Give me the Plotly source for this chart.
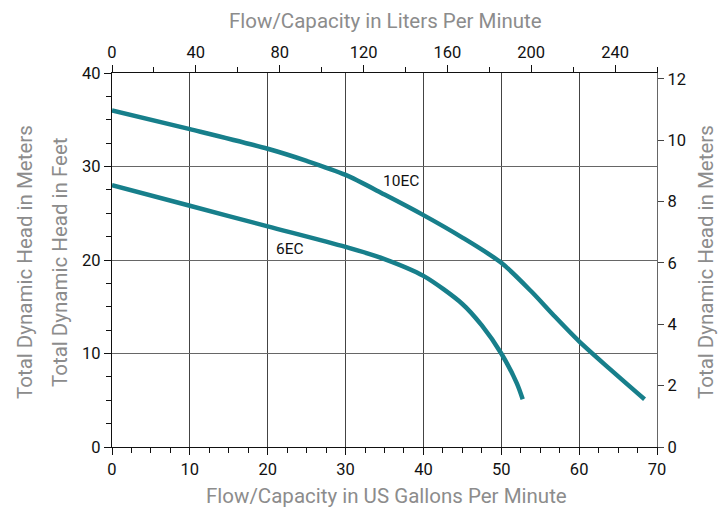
import plotly.graph_objects as go

# 10EC curve (US gpm, feet)
ec10_gpm = [0, 10, 20, 25, 30, 35, 40, 45, 50, 53.9, 56.6, 60, 64, 68.4]
ec10_ft = [36.0, 34.0, 31.9, 30.6, 29.1, 27.0, 24.8, 22.4, 19.7, 16.6, 14.2, 11.3, 8.3, 5.1]

# 6EC curve (US gpm, feet)
ec6_gpm = [0, 10, 20, 30, 35, 40, 45, 47.5, 50, 52, 52.75]
ec6_ft = [28.0, 25.8, 23.6, 21.4, 20.1, 18.3, 15.3, 13.0, 10.0, 6.8, 5.1]

curve_names = ["10EC", "6EC"]
label_pos = [(37.1, 28.4), (22.9, 21.2)]

FONT = "Roboto, Liberation Sans, sans-serif"
TEAL = "#177f8b"
GREY = "#8c8c8c"

# page body has an 8px default margin; plot area in window: x 112..657, y 73..447
OFF = 8
L, T = 112 - OFF, 73 - OFF
PW, PH = 545, 374
R = 727 - L - PW
B = 510 - T - PH

fig = go.Figure()
fig.add_trace(go.Scatter(x=ec10_gpm, y=ec10_ft, mode="lines", name=curve_names[0],
                         line=dict(color=TEAL, width=4.5, shape="spline", smoothing=0.8)))
fig.add_trace(go.Scatter(x=ec6_gpm, y=ec6_ft, mode="lines", name=curve_names[1],
                         line=dict(color=TEAL, width=4.5, shape="spline", smoothing=0.8)))
# invisible traces to bind secondary axes
fig.add_trace(go.Scatter(x=[0, 260], y=[0, 0], xaxis="x2", yaxis="y", mode="lines",
                         line=dict(width=0), hoverinfo="skip", showlegend=False))
fig.add_trace(go.Scatter(x=[0, 70], y=[0, 12.192], xaxis="x", yaxis="y2", mode="lines",
                         line=dict(width=0), hoverinfo="skip", showlegend=False))

for name, (lx, ly) in zip(curve_names, label_pos):
    fig.add_annotation(x=lx, y=ly, text=name, showarrow=False,
                       font=dict(family=FONT, size=15.5, color="#111"))

tickfont = dict(family=FONT, size=16.5, color="#111")
titlefont = dict(family=FONT, size=20.5, color=GREY)

fig.update_layout(
    width=727, height=510,
    margin=dict(l=L, r=R, t=T, b=B),
    paper_bgcolor="white", plot_bgcolor="white",
    showlegend=False,
    xaxis=dict(range=[0, 70], dtick=10, tick0=0, showgrid=True, gridcolor="#444",
               gridwidth=1, showline=True, linecolor="#111", linewidth=1.2,
               ticks="outside", ticklen=7, tickcolor="#111", tickfont=tickfont,
               minor=dict(dtick=2.5, ticks="outside", ticklen=5, tickcolor="#111", showgrid=False),
               zeroline=False, automargin=False),
    xaxis2=dict(range=[0, 260], dtick=40, tick0=0, overlaying="x", side="top", anchor="y",
                showgrid=False, showline=True, linecolor="#111", linewidth=1.2,
                ticks="outside", ticklen=7, tickcolor="#111", tickfont=tickfont,
                minor=dict(dtick=20, ticks="outside", ticklen=5, tickcolor="#111", showgrid=False),
                zeroline=False, automargin=False),
    yaxis=dict(range=[0, 40], dtick=10, tick0=0, showgrid=True, gridcolor="#666",
               gridwidth=1, showline=True, linecolor="#111", linewidth=1.2,
               ticks="outside", ticklen=7, tickcolor="#111", tickfont=tickfont,
               minor=dict(dtick=2.5, ticks="outside", ticklen=5, tickcolor="#111", showgrid=False),
               zeroline=False, automargin=False),
    yaxis2=dict(range=[0, 12.192], dtick=2, tick0=0, overlaying="y", side="right", anchor="x",
                showgrid=False, showline=True, linecolor="#666", linewidth=1.2,
                ticks="outside", ticklen=6, tickcolor="#444", tickfont=tickfont,
                zeroline=False, automargin=False),
)

def px_x(px):
    return (px - OFF - L) / PW

def px_y(py):
    return 1 - (py - OFF - T) / PH

titles = [
    ("Flow/Capacity in Liters Per Minute", 385, 21, 0),
    ("Flow/Capacity in US Gallons Per Minute", 386, 496, 0),
    ("Total Dynamic Head in Meters", 25, 262, -90),
    ("Total Dynamic Head in Feet", 60, 262, -90),
    ("Total Dynamic Head in Meters", 706, 262, -90),
]
for text, tx, ty, ang in titles:
    fig.add_annotation(xref="paper", yref="paper", x=px_x(tx), y=px_y(ty),
                       xanchor="center", yanchor="middle", text=text, textangle=ang,
                       showarrow=False, font=titlefont)

fig.write_html("out.html")
